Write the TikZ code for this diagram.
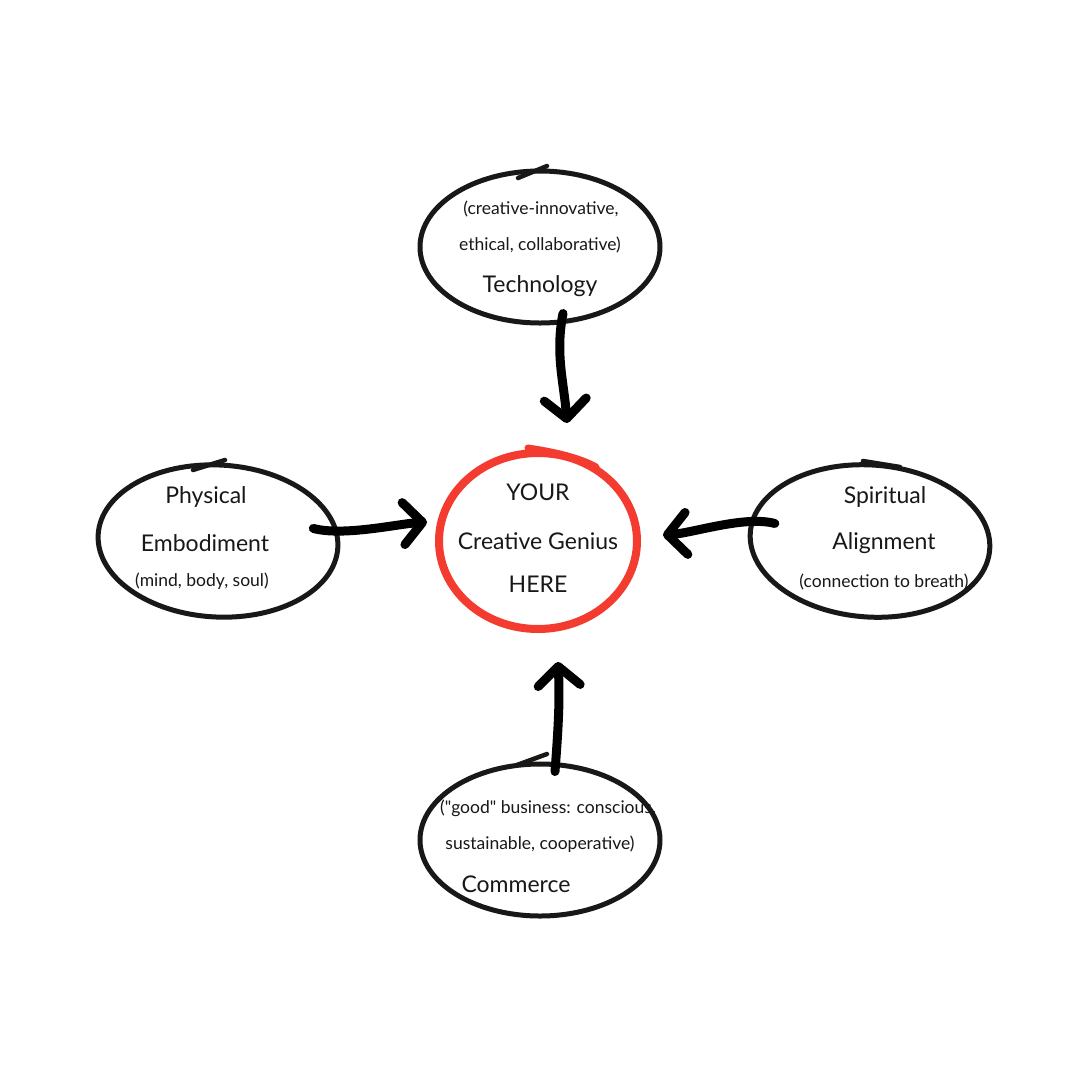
\documentclass[tikz,border=0pt]{standalone}
\usepackage{fontspec}
\setmainfont{Lato}
\usetikzlibrary{arrows.meta,shapes.geometric}
\definecolor{ink}{HTML}{1A1717}
\definecolor{redink}{HTML}{F43B30}
\tikzset{
  bubble/.style={draw=ink,line width=5pt,ellipse,minimum width=240pt,minimum height=152pt,inner sep=0pt},
  overshoot/.style={draw=ink,line width=4.5pt,line cap=round},
  conn/.style={draw=black,line width=9pt,line cap=round,-{Straight Barb[length=19pt,width=42pt,round]}},
  big/.style={font=\fontsize{23}{27}\selectfont,text=ink,inner sep=0pt},
  small/.style={font=\fontsize{17.5}{20}\selectfont,text=ink,inner sep=0pt},
}
\begin{document}
\begin{tikzpicture}[x=1pt,y=-1pt]
\useasboundingbox (0,0) rectangle (1080,1080);
\fill[white] (0,0) rectangle (1080,1080);

% bubbles
\node[bubble] (tech) at (540,247) {};
\node[bubble,rotate=-3] (phys) at (218,541) {};
\node[bubble,rotate=-4] (spirit) at (870,541) {};
\node[bubble] (comm) at (540,840) {};
\node[draw=redink,line width=8pt,ellipse,minimum width=198pt,minimum height=176pt,inner sep=0pt] (genius) at (538,541) {};

% hand-drawn overshoot strokes
\draw[overshoot] (518,178) -- (547,166);
\draw[overshoot] (193,470) -- (225,460);
\draw[overshoot] (863,461) -- (900,467);
\draw[overshoot] (517,765) -- (547,754);
\draw[draw=redink,line width=7pt,line cap=round] (528,448) .. controls (555,452) and (580,458) .. (596,467);

% labels
\node[small] (t1) at (541,209) {(creative-innovative,};
\node[small] (t2) at (540,245) {ethical, collaborative)};
\node[big]   (t3) at (540,286) {Technology};

\node[big]   (p1) at (206,497) {Physical};
\node[big]   (p2) at (205,543) {Embodiment};
\node[small] (p3) at (202,581) {(mind, body, soul)};

\node[big]   (g1) at (538,492) {YOUR};
\node[big]   (g2) at (538,541) {Creative Genius};
\node[big]   (g3) at (538,584) {HERE};

\node[big]   (s1) at (885,497) {Spiritual};
\node[big]   (s2) at (884,543) {Alignment};
\node[small] (s3) at (884,582) {(connection to breath)};

\node[small] (c1) at (548,808) {(\textquotedbl good\textquotedbl\ business: conscious,};
\node[small] (c2) at (540,844) {sustainable, cooperative)};
\node[big]   (c3) at (516,884) {Commerce};

% connectors
\draw[conn] ([shift={(23,-12)}]tech.south) .. controls +(-8,40) and +(-3,-40) .. ([shift={(29,-26)}]genius.north);
\draw[conn] ([shift={(-27,-19)}]phys.east) .. controls +(30,8) and +(-30,2) .. ([shift={(-8,-19)}]genius.west);
\draw[conn] ([shift={(27,-9)}]spirit.west) .. controls +(-30,-8) and +(30,-2) .. ([shift={(22,-6)}]genius.east);
\draw[conn] ([shift={(15,10)}]comm.north) .. controls +(3,-40) and +(2,40) .. ([shift={(20,29)}]genius.south);
\end{tikzpicture}
\end{document}
